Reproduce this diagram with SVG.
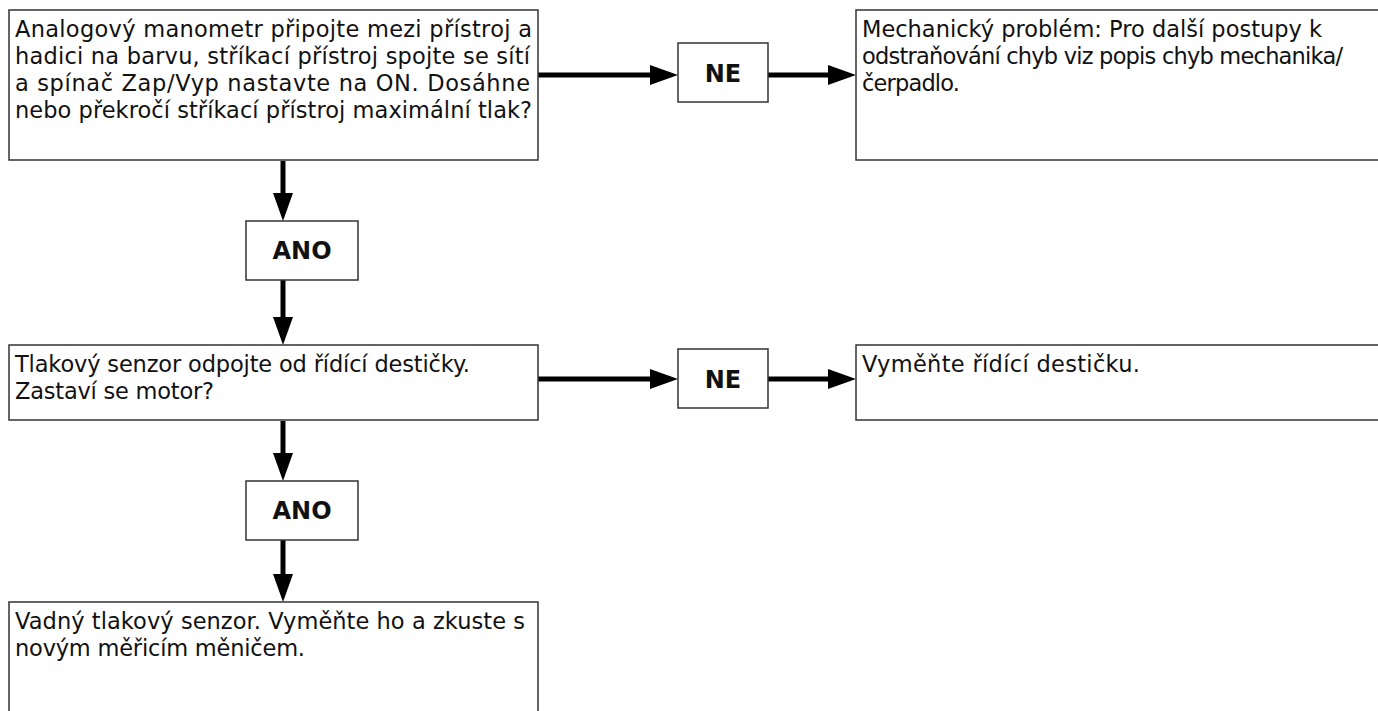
<svg xmlns="http://www.w3.org/2000/svg" width="1378" height="711" viewBox="0 0 1378 711">
<style>
.box{fill:#fff;stroke:#333;stroke-width:1.5}
.t{font-family:"DejaVu Sans","Liberation Sans",sans-serif;font-size:22.5px;fill:#111}
.lbl{font-family:"DejaVu Sans","Liberation Sans",sans-serif;font-size:24px;font-weight:bold;fill:#111;text-anchor:middle}
.c{stroke:#000;stroke-width:5;fill:none}
</style>
<defs>
<marker id="ah" markerUnits="userSpaceOnUse" markerWidth="28" markerHeight="20" refX="0" refY="10" orient="auto" overflow="visible">
<path d="M0,0 L28,10 L0,20 Z" fill="#000"/>
</marker>
</defs>
<rect width="1378" height="711" fill="#fff"/>
<g id="connectors">
<line class="c" x1="538" y1="75" x2="650" y2="75" marker-end="url(#ah)"/>
<line class="c" x1="768" y1="75" x2="828" y2="75" marker-end="url(#ah)"/>
<line class="c" x1="283" y1="161" x2="283" y2="193" marker-end="url(#ah)"/>
<line class="c" x1="283" y1="280" x2="283" y2="317" marker-end="url(#ah)"/>
<line class="c" x1="538" y1="379" x2="650" y2="379" marker-end="url(#ah)"/>
<line class="c" x1="768" y1="379" x2="828" y2="379" marker-end="url(#ah)"/>
<line class="c" x1="283" y1="421" x2="283" y2="453" marker-end="url(#ah)"/>
<line class="c" x1="283" y1="540" x2="283" y2="574" marker-end="url(#ah)"/>
</g>
<g id="q1">
<rect class="box" x="9" y="10" width="529" height="150"/>
<text class="t"><tspan x="15" y="37" textLength="517">Analogový manometr připojte mezi přístroj a</tspan><tspan x="15" y="64" textLength="515">hadici na barvu, stříkací přístroj spojte se sítí</tspan><tspan x="15" y="91" textLength="515">a spínač Zap/Vyp nastavte na ON. Dosáhne</tspan><tspan x="15" y="118" textLength="517">nebo překročí stříkací přístroj maximální tlak?</tspan></text>
</g>
<g id="ne1">
<rect class="box" x="678" y="43" width="90" height="59"/>
<text class="lbl" x="723" y="82">NE</text>
</g>
<g id="r1">
<rect class="box" x="856" y="10" width="530" height="150"/>
<text class="t"><tspan x="862" y="37" textLength="460">Mechanický problém: Pro další postupy k</tspan><tspan x="862" y="64" textLength="481">odstraňování chyb viz popis chyb mechanika/</tspan><tspan x="862" y="91" textLength="98">čerpadlo.</tspan></text>
</g>
<g id="ano1">
<rect class="box" x="246" y="221" width="112" height="59"/>
<text class="lbl" x="302" y="259">ANO</text>
</g>
<g id="q2">
<rect class="box" x="9" y="345" width="529" height="75"/>
<text class="t"><tspan x="15" y="372" textLength="455">Tlakový senzor odpojte od řídící destičky.</tspan><tspan x="15" y="399" textLength="199">Zastaví se motor?</tspan></text>
</g>
<g id="ne2">
<rect class="box" x="678" y="349" width="90" height="59"/>
<text class="lbl" x="723" y="388">NE</text>
</g>
<g id="r2">
<rect class="box" x="856" y="345" width="530" height="75"/>
<text class="t"><tspan x="862" y="372" textLength="278">Vyměňte řídící destičku.</tspan></text>
</g>
<g id="ano2">
<rect class="box" x="246" y="481" width="112" height="59"/>
<text class="lbl" x="302" y="519">ANO</text>
</g>
<g id="r3">
<rect class="box" x="9" y="602" width="529" height="120"/>
<text class="t"><tspan x="15" y="629" textLength="510">Vadný tlakový senzor. Vyměňte ho a zkuste s</tspan><tspan x="15" y="656" textLength="290">novým měřicím měničem.</tspan></text>
</g>
</svg>
